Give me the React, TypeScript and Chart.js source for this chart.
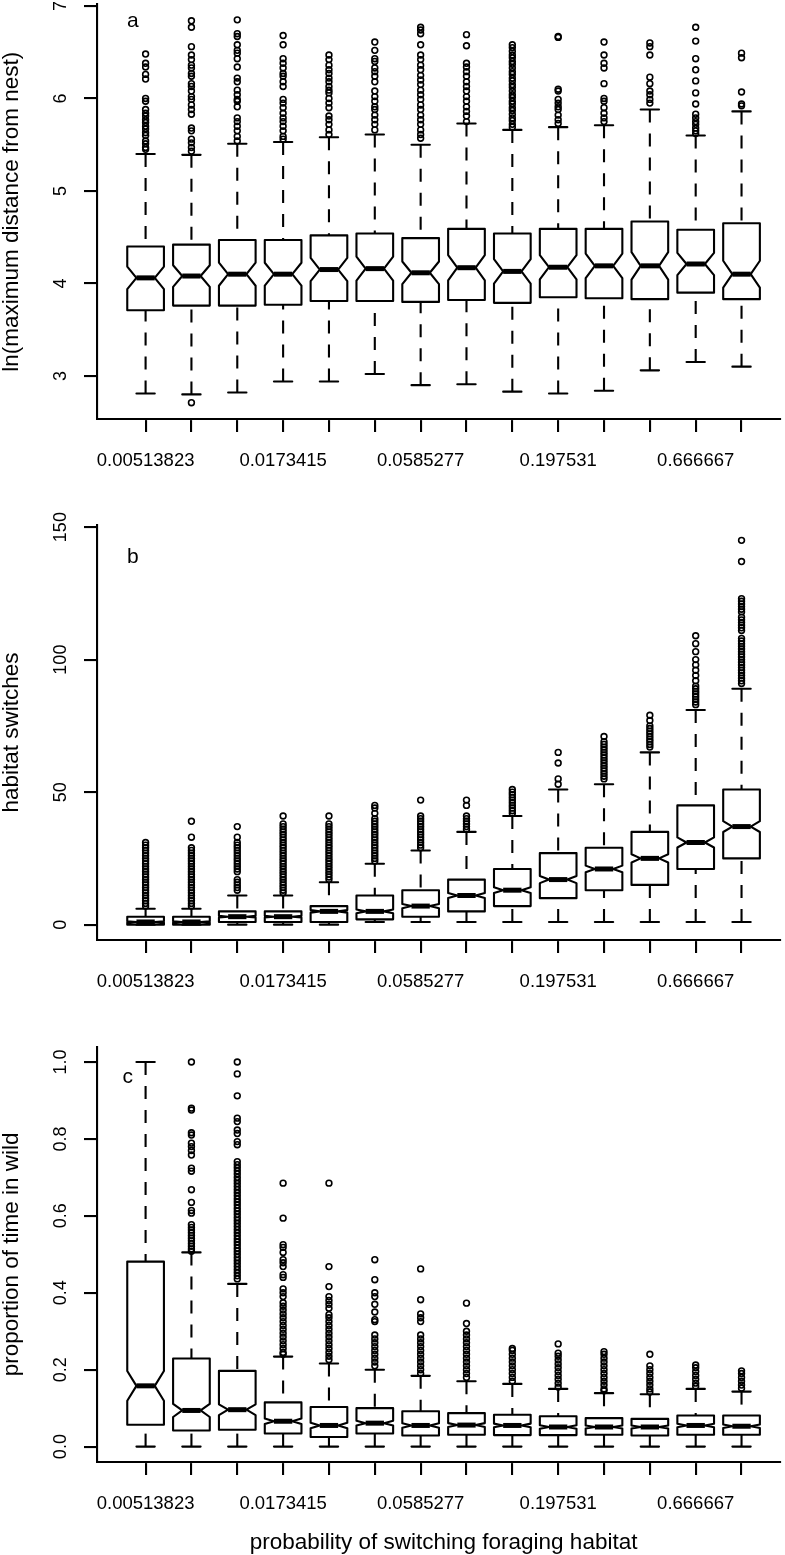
import React, { useEffect, useRef } from 'react';
import { Chart, registerables } from 'chart.js';

Chart.register(...registerables);

const FONT = '"Liberation Sans", Arial, Helvetica, sans-serif';
Chart.defaults.font.family = FONT;
Chart.defaults.color = '#000';

// ---------- data ----------
const categories = ['0.00513823', '0.00770735', '0.011561', '0.0173415', '0.0260123', '0.0390184', '0.0585277', '0.0877915', '0.131687', '0.197531', '0.296296', '0.444444', '0.666667', '1'];
const labelledIndices = [0, 3, 6, 9, 12];

// panel a: ln(maximum distance from nest)
const aLow = [2.81, 2.80, 2.82, 2.94, 2.94, 3.02, 2.90, 2.91, 2.83, 2.81, 2.84, 3.06, 3.15, 3.10];
const aQ1 = [3.71, 3.76, 3.76, 3.77, 3.81, 3.81, 3.80, 3.82, 3.79, 3.85, 3.84, 3.83, 3.90, 3.83];
const aMed = [4.06, 4.08, 4.10, 4.10, 4.15, 4.16, 4.115, 4.17, 4.13, 4.175, 4.19, 4.19, 4.21, 4.10];
const aQ3 = [4.40, 4.42, 4.47, 4.47, 4.52, 4.54, 4.49, 4.59, 4.54, 4.59, 4.59, 4.67, 4.58, 4.65];
const aHigh = [5.40, 5.39, 5.51, 5.53, 5.58, 5.61, 5.50, 5.73, 5.66, 5.69, 5.71, 5.88, 5.60, 5.86];
const aOutliers: number[][] = [
  [6.48, 6.38, 6.34, 6.26, 6.21, 6.00, 5.97, 5.88, 5.84, 5.81, 5.77, 5.74, 5.70, 5.67, 5.63, 5.60, 5.54, 5.51, 5.47, 5.45],
  [6.84, 6.77, 6.56, 6.47, 6.42, 6.36, 6.33, 6.27, 6.24, 6.16, 6.13, 6.08, 6.02, 5.99, 5.93, 5.88, 5.83, 5.68, 5.65, 5.56, 5.52, 5.47, 5.43, 2.71],
  [6.85, 6.70, 6.67, 6.58, 6.52, 6.49, 6.43, 6.34, 6.22, 6.18, 6.09, 6.04, 5.99, 5.97, 5.91, 5.79, 5.75, 5.70, 5.65, 5.59, 5.54],
  [6.68, 6.58, 6.43, 6.38, 6.33, 6.27, 6.24, 6.18, 6.13, 5.99, 5.95, 5.90, 5.84, 5.79, 5.75, 5.70, 5.65, 5.59, 5.56],
  [6.47, 6.42, 6.36, 6.31, 6.27, 6.22, 6.18, 6.13, 6.09, 6.06, 6.00, 5.95, 5.90, 5.81, 5.77, 5.72, 5.66, 5.61],
  [6.61, 6.52, 6.43, 6.40, 6.33, 6.29, 6.24, 6.18, 6.08, 6.02, 5.97, 5.91, 5.88, 5.82, 5.77, 5.72, 5.66],
  [6.77, 6.74, 6.70, 6.58, 6.47, 6.42, 6.36, 6.31, 6.25, 6.20, 6.15, 6.09, 6.04, 5.99, 5.93, 5.88, 5.82, 5.77, 5.72, 5.66, 5.61, 5.57],
  [6.69, 6.57, 6.38, 6.34, 6.29, 6.24, 6.18, 6.13, 6.08, 6.02, 5.97, 5.91, 5.86, 5.81, 5.75],
  [6.58, 6.55, 6.51, 6.47, 6.44, 6.40, 6.37, 6.33, 6.29, 6.26, 6.22, 6.19, 6.15, 6.12, 6.08, 6.04, 6.01, 5.97, 5.94, 5.90, 5.87, 5.83, 5.79, 5.76, 5.72, 5.69],
  [6.67, 6.66, 6.10, 6.08, 5.99, 5.95, 5.91, 5.88, 5.82, 5.77, 5.73],
  [6.61, 6.47, 6.38, 6.33, 6.16, 6.00, 5.97, 5.90, 5.84, 5.79, 5.75],
  [6.60, 6.56, 6.47, 6.23, 6.16, 6.08, 6.04, 5.99, 5.95],
  [6.77, 6.62, 6.43, 6.31, 6.19, 6.06, 5.94, 5.83, 5.79, 5.75, 5.72, 5.68, 5.65, 5.62],
  [6.49, 6.44, 6.07, 5.94, 5.92],
];
const aTicks = [3, 4, 5, 6, 7];
const aTickLabels = ['3', '4', '5', '6', '7'];

// panel b: habitat switches
const bLow = [0, 0, 0, 0, 0, 1, 1, 1, 1, 1, 1, 1, 1, 1];
const bQ1 = [0, 0, 1, 1, 1, 2, 3, 5, 7, 10, 13, 15, 21, 25];
const bMed = [1, 1, 3, 3, 5, 5, 7, 11, 13, 17, 21, 25, 31, 37];
const bQ3 = [3, 3, 5, 5, 7, 11, 13, 17, 21, 27, 29, 35, 45, 51];
const bHigh = [6, 6, 11, 11, 16, 23, 28, 35, 41, 51, 53, 65, 81, 89];
const bOutliers: number[][] = [
  [7, 8, 9, 10, 11, 12, 13, 14, 15, 16, 17, 18, 19, 20, 21, 22, 23, 24, 25, 26, 27, 28, 29, 30, 31],
  [7, 8, 9, 10, 11, 12, 13, 14, 15, 16, 17, 18, 19, 20, 21, 22, 23, 24, 25, 26, 27, 28, 29, 33, 39],
  [13, 14, 15, 16, 17, 20, 21, 22, 23, 24, 25, 26, 27, 28, 29, 30, 31, 33, 37],
  [12, 13, 14, 15, 16, 17, 18, 19, 20, 21, 22, 23, 24, 25, 26, 27, 28, 29, 30, 31, 32, 33, 34, 35, 36, 37, 38, 41],
  [17, 18, 19, 20, 21, 22, 23, 24, 25, 26, 27, 28, 29, 30, 31, 32, 33, 34, 35, 36, 37, 38, 41],
  [24, 25, 26, 27, 28, 29, 30, 31, 32, 33, 34, 35, 36, 37, 38, 39, 40, 42, 44, 45],
  [29, 30, 31, 32, 33, 34, 35, 36, 37, 38, 39, 40, 41, 47],
  [36, 37, 38, 39, 40, 41, 45, 47],
  [42, 43, 44, 45, 46, 47, 48, 49, 50, 51],
  [53, 55, 61, 65],
  [55, 56, 57, 58, 59, 60, 61, 62, 63, 64, 65, 66, 67, 68, 69, 71],
  [67, 68, 69, 70, 71, 72, 73, 74, 75, 77, 79],
  [83, 84, 85, 86, 87, 88, 89, 90, 92, 94, 96, 98, 100, 103, 106, 109],
  [91, 92, 93, 94, 95, 96, 97, 98, 99, 100, 101, 102, 103, 104, 105, 106, 107, 108, 111, 112, 113, 114, 115, 116, 118, 119, 120, 121, 122, 123, 137, 145],
];
const bTicks = [0, 50, 100, 150];
const bTickLabels = ['0', '50', '100', '150'];

// panel c: proportion of time in wild
const cLow = [0, 0, 0, 0, 0, 0, 0, 0, 0, 0, 0, 0, 0, 0];
const cQ1 = [0.057, 0.042, 0.044, 0.034, 0.025, 0.034, 0.029, 0.031, 0.030, 0.030, 0.031, 0.029, 0.031, 0.031];
const cMed = [0.158, 0.094, 0.096, 0.066, 0.055, 0.061, 0.055, 0.056, 0.055, 0.051, 0.051, 0.051, 0.055, 0.053];
const cQ3 = [0.481, 0.229, 0.197, 0.115, 0.103, 0.100, 0.092, 0.087, 0.083, 0.079, 0.074, 0.072, 0.081, 0.081];
const cHigh = [1.0, 0.505, 0.423, 0.234, 0.216, 0.200, 0.184, 0.170, 0.163, 0.150, 0.139, 0.136, 0.150, 0.143];
const cOutliers: number[][] = [
  [],
  [1.0, 0.88, 0.875, 0.816, 0.81, 0.789, 0.78, 0.77, 0.758, 0.724, 0.716, 0.668, 0.635, 0.614, 0.607, 0.577, 0.57, 0.563, 0.556, 0.549, 0.542, 0.535, 0.528, 0.521, 0.514, 0.508],
  [1.0, 0.969, 0.912, 0.854, 0.845, 0.823, 0.814, 0.793, 0.785, 0.741, 0.733, 0.725, 0.717, 0.709, 0.70, 0.692, 0.684, 0.676, 0.668, 0.66, 0.652, 0.644, 0.636, 0.628, 0.62, 0.612, 0.604, 0.596, 0.588, 0.58, 0.572, 0.564, 0.556, 0.548, 0.54, 0.532, 0.524, 0.516, 0.508, 0.50, 0.492, 0.484, 0.476, 0.468, 0.46, 0.452, 0.444, 0.436],
  [0.685, 0.594, 0.525, 0.518, 0.505, 0.486, 0.478, 0.468, 0.447, 0.44, 0.41, 0.40, 0.39, 0.374, 0.365, 0.355, 0.345, 0.335, 0.325, 0.315, 0.305, 0.295, 0.285, 0.275, 0.265, 0.255, 0.245, 0.24],
  [0.685, 0.468, 0.416, 0.39, 0.38, 0.37, 0.36, 0.343, 0.335, 0.325, 0.315, 0.305, 0.295, 0.285, 0.275, 0.265, 0.255, 0.245, 0.235, 0.226],
  [0.486, 0.434, 0.40, 0.39, 0.37, 0.35, 0.33, 0.325, 0.29, 0.28, 0.27, 0.26, 0.25, 0.24, 0.23, 0.22, 0.21],
  [0.462, 0.382, 0.345, 0.335, 0.325, 0.29, 0.28, 0.27, 0.26, 0.25, 0.24, 0.23, 0.22, 0.21, 0.20, 0.19],
  [0.373, 0.32, 0.30, 0.29, 0.28, 0.27, 0.26, 0.25, 0.24, 0.23, 0.22, 0.21, 0.20, 0.19, 0.18],
  [0.255, 0.25, 0.24, 0.23, 0.22, 0.21, 0.20, 0.19, 0.18, 0.17],
  [0.267, 0.243, 0.235, 0.225, 0.215, 0.205, 0.195, 0.185, 0.175, 0.165, 0.155],
  [0.247, 0.24, 0.23, 0.22, 0.21, 0.20, 0.19, 0.18, 0.17, 0.16, 0.15, 0.145],
  [0.24, 0.21, 0.20, 0.19, 0.18, 0.17, 0.16, 0.15, 0.142],
  [0.212, 0.205, 0.195, 0.185, 0.175, 0.165, 0.157],
  [0.197, 0.19, 0.18, 0.17, 0.16, 0.152],
];
const cTicks = [0, 0.2, 0.4, 0.6, 0.8, 1.0];
const cTickLabels = ['0.0', '0.2', '0.4', '0.6', '0.8', '1.0'];

const xAxisTitle = 'probability of switching foraging habitat';

// ---------- layout / style ----------
const W = 785;
const PLOT_LEFT = 97;
const X_MIN = -0.06;
const X_MAX = 14.85;
const X_TITLE_CENTER = 7.5; // centre of the full (uncropped) plotting region, in category units
const BOX_HALF = 0.4;
const NOTCH_FRAC = 0.5;
const STAPLE_FRAC = 0.5;
const Y_LABEL_X = 61;
const LINE = '#000';
const LW = 2.1;
const TITLE_SIZE = 22.5;
const TITLE_FONT = { family: FONT, size: TITLE_SIZE, lineHeight: 1.05 };

type Panel = {
  key: string;
  canvasTop: number; canvasH: number; plotTop: number; plotBottom: number;
  yMin: number; yMax: number; ticks: number[]; tickLabels: string[];
  yTitle: string; xTitle?: string; letter: string; letterX: number; letterY: number;
  n: number;
  low: number[]; q1: number[]; med: number[]; q3: number[]; high: number[]; out: number[][];
};

const PANELS: Panel[] = [
  { key: 'a', canvasTop: 0, canvasH: 500, plotTop: 3.5, plotBottom: 419, yMin: 2.534, yMax: 7.016,
    ticks: aTicks, tickLabels: aTickLabels, yTitle: 'ln(maximum distance from nest)', letter: 'a', letterX: 0.72, letterY: 6.83, n: 80,
    low: aLow, q1: aQ1, med: aMed, q3: aQ3, high: aHigh, out: aOutliers },
  { key: 'b', canvasTop: 500, canvasH: 530, plotTop: 525, plotBottom: 940, yMin: -5.8, yMax: 150.8,
    ticks: bTicks, tickLabels: bTickLabels, yTitle: 'habitat switches', letter: 'b', letterX: 0.72, letterY: 138.6, n: 400,
    low: bLow, q1: bQ1, med: bMed, q3: bQ3, high: bHigh, out: bOutliers },
  { key: 'c', canvasTop: 1030, canvasH: 525, plotTop: 1046.6, plotBottom: 1462, yMin: -0.04, yMax: 1.04,
    ticks: cTicks, tickLabels: cTickLabels, yTitle: 'proportion of time in wild', xTitle: xAxisTitle,
    letter: 'c', letterX: 0.61, letterY: 0.961, n: 300,
    low: cLow, q1: cQ1, med: cMed, q3: cQ3, high: cHigh, out: cOutliers },
];

function boxPlugin(p: Panel) {
  return {
    id: 'boxplot_' + p.key,
    afterDatasetsDraw(chart: any) {
      const { ctx } = chart;
      const xs = chart.scales.x;
      const ys = chart.scales.y;
      const Y = (v: number) => ys.getPixelForValue(v);
      const seg = (x1: number, y1: number, x2: number, y2: number) => {
        ctx.beginPath(); ctx.moveTo(x1, y1); ctx.lineTo(x2, y2); ctx.stroke();
      };
      ctx.save();
      ctx.strokeStyle = LINE;
      for (let i = 0; i < p.med.length; i++) {
        const cx = xs.getPixelForValue(i + 1);
        const hw = xs.getPixelForValue(i + 1 + BOX_HALF) - cx;
        const nw = hw * NOTCH_FRAC;
        const sw = hw * STAPLE_FRAC;
        const nh = (1.58 * (p.q3[i] - p.q1[i])) / Math.sqrt(p.n);
        const c1 = p.med[i] - nh;
        const c2 = p.med[i] + nh;
        // whiskers (dashed), drawn from whisker end toward the box
        ctx.lineWidth = LW;
        ctx.lineCap = 'butt';
        ctx.setLineDash([13, 11]);
        if (p.low[i] < p.q1[i]) seg(cx, Y(p.low[i]), cx, Y(p.q1[i]));
        if (p.high[i] > p.q3[i]) seg(cx, Y(p.high[i]), cx, Y(p.q3[i]));
        ctx.setLineDash([]);
        // staples
        ctx.lineCap = 'round';
        seg(cx - sw, Y(p.low[i]), cx + sw, Y(p.low[i]));
        seg(cx - sw, Y(p.high[i]), cx + sw, Y(p.high[i]));
        // notched box
        const fx = [-1, 1, 1, NOTCH_FRAC, 1, 1, -1, -1, -NOTCH_FRAC, -1];
        const fy = [p.q1[i], p.q1[i], c1, p.med[i], c2, p.q3[i], p.q3[i], c2, p.med[i], c1];
        ctx.lineJoin = 'round';
        ctx.beginPath();
        for (let k = 0; k < fx.length; k++) {
          const px = cx + fx[k] * hw;
          const py = Y(fy[k]);
          if (k === 0) ctx.moveTo(px, py); else ctx.lineTo(px, py);
        }
        ctx.closePath();
        ctx.stroke();
        // median
        ctx.lineWidth = 5;
        ctx.lineCap = 'butt';
        seg(cx - nw, Y(p.med[i]), cx + nw, Y(p.med[i]));
      }
      // y tick labels (rotated, R style)
      ctx.fillStyle = '#000';
      ctx.font = `18px ${FONT}`;
      ctx.textAlign = 'center';
      ctx.textBaseline = 'middle';
      p.ticks.forEach((t, k) => {
        ctx.save();
        ctx.translate(Y_LABEL_X, Y(t));
        ctx.rotate(-Math.PI / 2);
        ctx.fillText(p.tickLabels[k], 0, 0);
        ctx.restore();
      });
      // panel letter
      ctx.font = `21px ${FONT}`;
      ctx.fillText(p.letter, xs.getPixelForValue(p.letterX), Y(p.letterY));
      // x-axis title, centred on the full plotting region
      if (p.xTitle) {
        ctx.font = `${TITLE_SIZE}px ${FONT}`;
        ctx.textBaseline = 'middle';
        ctx.fillText(p.xTitle, xs.getPixelForValue(X_TITLE_CENTER), chart.height - 12);
      }
      ctx.restore();
    },
  };
}

function buildConfig(p: Panel): any {
  const points = p.out.flatMap((arr, i) => arr.map((v) => ({ x: i + 1, y: v })));
  return {
    type: 'scatter',
    data: {
      datasets: [
        {
          data: points,
          pointStyle: 'circle',
          pointRadius: 2.9,
          pointHoverRadius: 2.9,
          pointBorderWidth: 1.6,
          pointBorderColor: '#000',
          pointBackgroundColor: 'rgba(0,0,0,0)',
          showLine: false,
        },
      ],
    },
    options: {
      animation: false,
      responsive: false,
      devicePixelRatio: 1,
      events: [],
      layout: { padding: { top: p.plotTop - p.canvasTop, left: 0, right: 0, bottom: 0 } },
      plugins: { legend: { display: false }, tooltip: { enabled: false }, title: { display: false } },
      scales: {
        x: {
          type: 'linear',
          position: 'bottom',
          min: X_MIN,
          max: X_MAX,
          bounds: 'data',
          afterBuildTicks: (s: any) => {
            s.ticks = categories.map((_, i) => ({ value: i + 1 }));
          },
          afterFit: (s: any) => {
            s.height = p.canvasTop + p.canvasH - p.plotBottom;
          },
          ticks: {
            autoSkip: false,
            maxRotation: 0,
            minRotation: 0,
            padding: 18,
            color: '#000',
            font: { family: FONT, size: 18.5 },
            callback: (v: number) => {
              const idx = Math.round(v) - 1;
              return labelledIndices.includes(idx) ? categories[idx] : '';
            },
          },
          grid: { display: true, drawOnChartArea: false, drawTicks: true, tickLength: 13, color: LINE, lineWidth: LW },
          border: { display: true, color: LINE, width: LW },
          title: { display: false },
        },
        y: {
          type: 'linear',
          position: 'left',
          min: p.yMin,
          max: p.yMax,
          bounds: 'data',
          afterBuildTicks: (s: any) => {
            s.ticks = p.ticks.map((v) => ({ value: v }));
          },
          afterFit: (s: any) => {
            s.width = PLOT_LEFT;
          },
          ticks: { display: false },
          grid: { display: true, drawOnChartArea: false, drawTicks: true, tickLength: 13, color: LINE, lineWidth: LW },
          border: { display: true, color: LINE, width: LW },
          title: { display: true, text: p.yTitle, color: '#000', font: TITLE_FONT, padding: { top: 0, bottom: 0 } },
        },
      },
    },
    plugins: [boxPlugin(p)],
  };
}

export default function App() {
  const r0 = useRef<HTMLCanvasElement>(null);
  const r1 = useRef<HTMLCanvasElement>(null);
  const r2 = useRef<HTMLCanvasElement>(null);
  useEffect(() => {
    const refs = [r0, r1, r2];
    const charts = PANELS.map((p, k) => new Chart(refs[k].current as HTMLCanvasElement, buildConfig(p)));
    return () => charts.forEach((c) => c.destroy());
  }, []);
  const refs = [r0, r1, r2];
  return (
    <div style={{ position: 'absolute', left: 0, top: 0, width: W, height: 1555, background: '#fff', overflow: 'hidden' }}>
      {PANELS.map((p, k) => (
        <canvas
          key={p.key}
          ref={refs[k]}
          width={W}
          height={p.canvasH}
          style={{ position: 'absolute', left: 0, top: p.canvasTop, width: W, height: p.canvasH, display: 'block' }}
        />
      ))}
    </div>
  );
}
